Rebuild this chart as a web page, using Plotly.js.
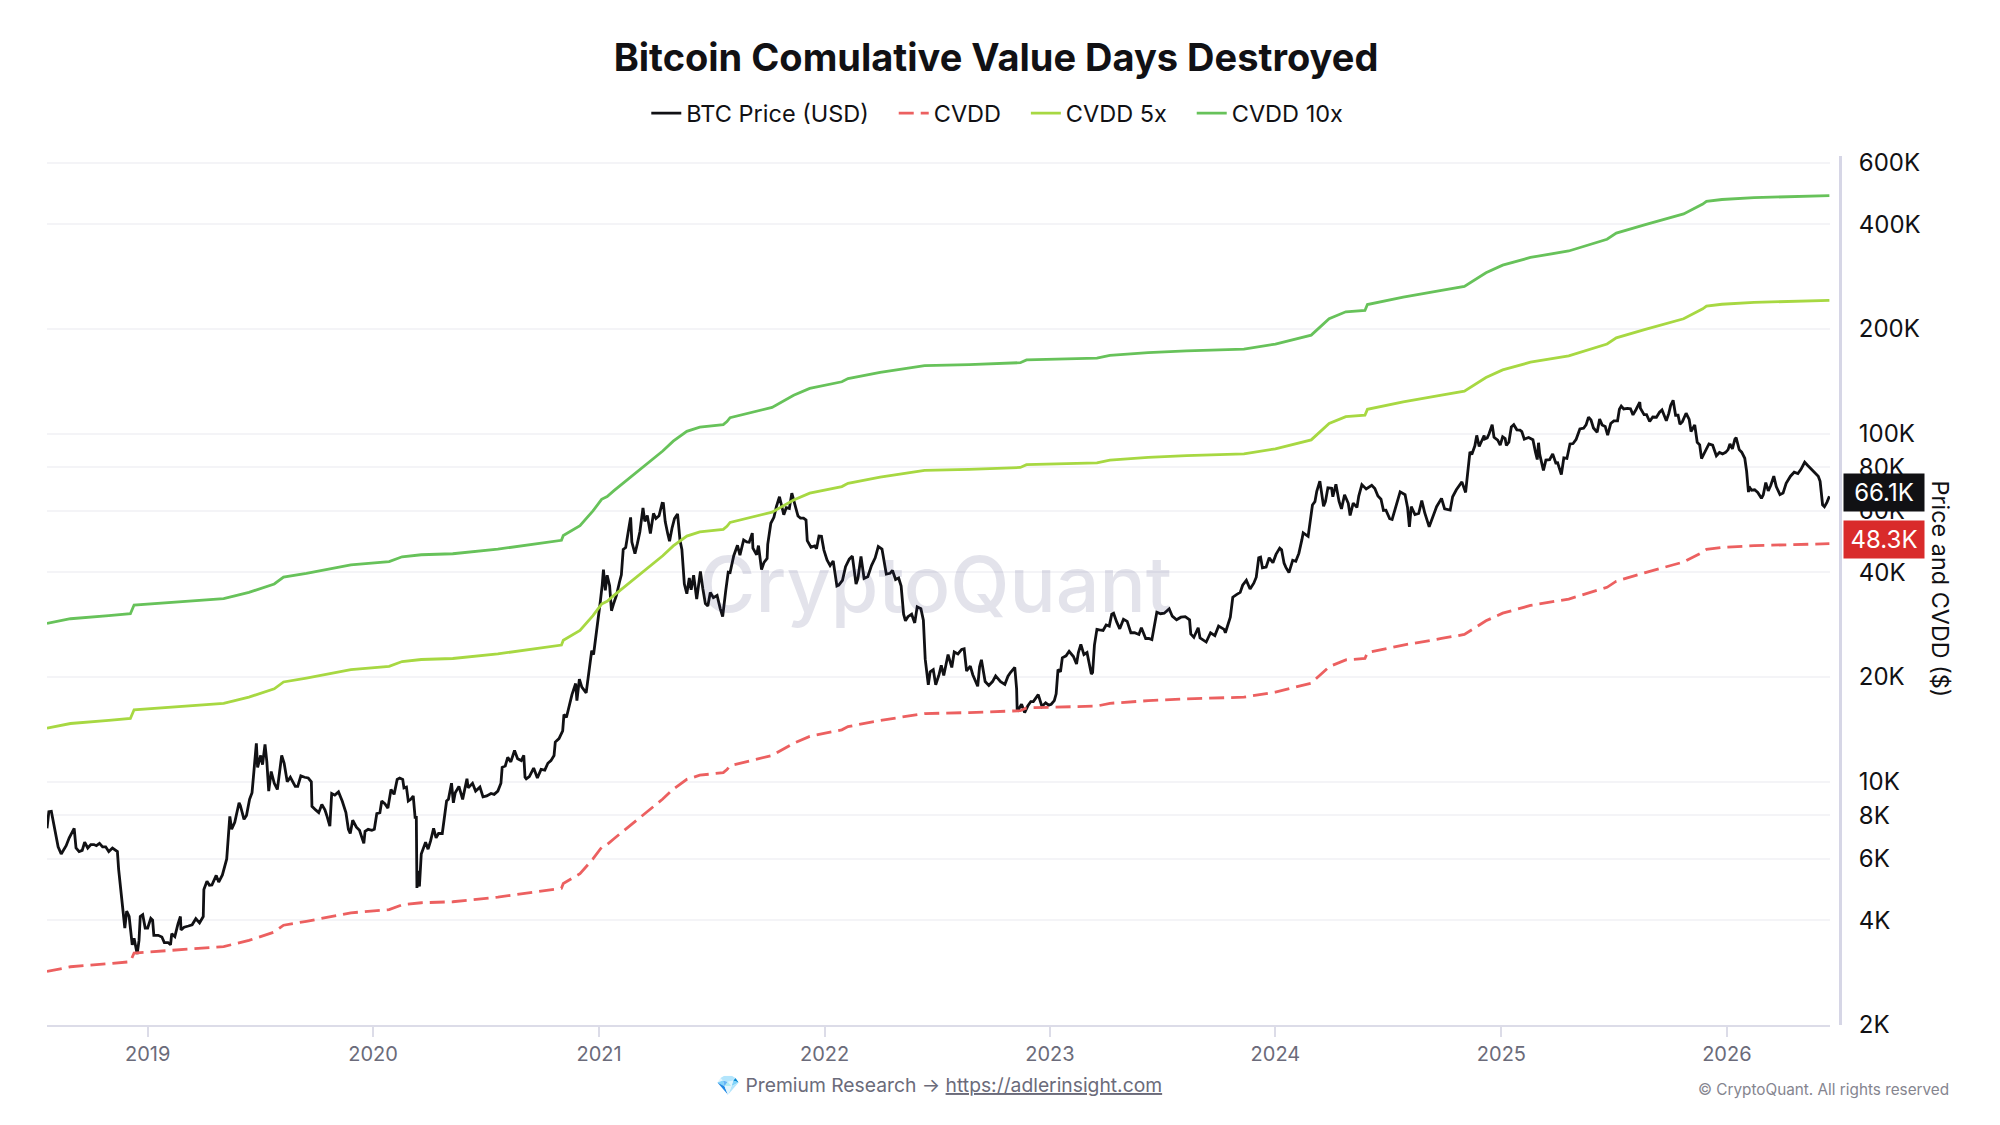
<!DOCTYPE html>
<html>
<head>
<meta charset="utf-8">
<script src="https://cdn.plot.ly/plotly-3.0.1.min.js"></script>
<style>
  html, body { margin: 0; background: #fff; }
  #chart { width: 2000px; height: 1125px; }
</style>
</head>
<body>
<div id="chart"></div>
<script>
// BTC price, [date, usd]
var price2018 = [["2018-07-22",7350],["2018-07-25",8200],["2018-07-29",8220],["2018-08-02",7550],["2018-08-05",7050],["2018-08-09",6500],["2018-08-14",6200],["2018-08-18",6400],["2018-08-22",6550],["2018-08-27",6900],["2018-09-01",7200],["2018-09-04",7350],["2018-09-07",6450],["2018-09-12",6300],["2018-09-17",6350],["2018-09-21",6700],["2018-09-26",6450],["2018-10-01",6600],["2018-10-06",6600],["2018-10-10",6550],["2018-10-15",6650],["2018-10-20",6500],["2018-10-25",6500],["2018-10-30",6300],["2018-11-05",6450],["2018-11-10",6350],["2018-11-13",6300],["2018-11-15",5600],["2018-11-20",4500],["2018-11-24",3900],["2018-11-25",3800],["2018-11-28",4250],["2018-12-02",4100],["2018-12-07",3400],["2018-12-10",3550],["2018-12-15",3200],["2018-12-18",3500],["2018-12-20",4100],["2018-12-24",4150],["2018-12-28",3800]];
var price2019 = [["2019-01-01",3800],["2019-01-06",4050],["2019-01-09",4000],["2019-01-11",3620],["2019-01-18",3620],["2019-01-24",3580],["2019-01-28",3450],["2019-02-03",3450],["2019-02-07",3400],["2019-02-09",3660],["2019-02-14",3590],["2019-02-19",3900],["2019-02-23",4100],["2019-02-24",3750],["2019-03-01",3820],["2019-03-08",3850],["2019-03-14",3880],["2019-03-20",4040],["2019-03-26",3930],["2019-04-01",4100],["2019-04-02",4900],["2019-04-07",5180],["2019-04-11",5040],["2019-04-15",5050],["2019-04-22",5380],["2019-04-26",5150],["2019-05-02",5400],["2019-05-09",6000],["2019-05-12",7100],["2019-05-14",7950],["2019-05-17",7300],["2019-05-22",7650],["2019-05-29",8700],["2019-05-31",8550],["2019-06-06",7800],["2019-06-10",8000],["2019-06-15",8900],["2019-06-19",9300],["2019-06-22",10700],["2019-06-26",12900],["2019-06-28",11000],["2019-07-03",11900],["2019-07-06",11200],["2019-07-10",12800],["2019-07-13",11400],["2019-07-16",9400],["2019-07-20",10700],["2019-07-25",9900],["2019-07-30",9500],["2019-08-03",10800],["2019-08-06",11900],["2019-08-10",11300],["2019-08-15",10000],["2019-08-20",10300],["2019-08-28",9700],["2019-09-01",9700],["2019-09-06",10400],["2019-09-12",10300],["2019-09-18",10250],["2019-09-23",10000],["2019-09-24",8500],["2019-09-30",8300],["2019-10-05",8150],["2019-10-10",8600],["2019-10-15",8300],["2019-10-18",8000],["2019-10-23",7450],["2019-10-25",8650],["2019-10-26",9250],["2019-10-31",9150],["2019-11-06",9350],["2019-11-12",8800],["2019-11-18",8150],["2019-11-22",7300],["2019-11-25",7100],["2019-11-29",7750],["2019-12-05",7400],["2019-12-10",7250],["2019-12-17",6650],["2019-12-19",7200],["2019-12-24",7300],["2019-12-30",7250]];
var price2020 = [["2020-01-03",7300],["2020-01-07",8100],["2020-01-12",8150],["2020-01-15",8800],["2020-01-20",8650],["2020-01-25",8400],["2020-01-30",9500],["2020-02-04",9200],["2020-02-09",10150],["2020-02-13",10250],["2020-02-18",10150],["2020-02-20",9600],["2020-02-24",9650],["2020-02-27",8800],["2020-03-02",8900],["2020-03-06",9100],["2020-03-09",7900],["2020-03-11",7900],["2020-03-12",4950],["2020-03-13",5550],["2020-03-16",5000],["2020-03-19",6200],["2020-03-23",6450],["2020-03-26",6700],["2020-03-30",6400],["2020-04-03",6750],["2020-04-08",7350],["2020-04-12",6900],["2020-04-16",7100],["2020-04-22",7100],["2020-04-29",8800],["2020-05-02",8900],["2020-05-07",9900],["2020-05-10",8700],["2020-05-13",9300],["2020-05-19",9700],["2020-05-25",8900],["2020-05-30",9700],["2020-06-01",10200],["2020-06-03",9600],["2020-06-10",9900],["2020-06-15",9400],["2020-06-22",9650],["2020-06-27",9050],["2020-07-03",9100],["2020-07-10",9250],["2020-07-15",9200],["2020-07-21",9400],["2020-07-26",9900],["2020-07-28",11000],["2020-08-02",11100],["2020-08-06",11750],["2020-08-11",11400],["2020-08-17",12300],["2020-08-22",11650],["2020-08-28",11500],["2020-09-01",11900],["2020-09-03",10300],["2020-09-05",10200],["2020-09-10",10350],["2020-09-17",10950],["2020-09-23",10250],["2020-09-29",10850],["2020-10-05",10800],["2020-10-10",11300],["2020-10-15",11500],["2020-10-20",11900],["2020-10-22",13000],["2020-10-28",13300],["2020-11-03",14000],["2020-11-05",15600],["2020-11-09",15300],["2020-11-13",16300],["2020-11-18",17800],["2020-11-24",19150],["2020-11-26",17100],["2020-11-30",19700],["2020-12-04",18700],["2020-12-11",18000],["2020-12-16",21300],["2020-12-20",23800],["2020-12-23",23200],["2020-12-27",26300],["2020-12-31",29000]];
var price2021 = [["2021-01-03",33000],["2021-01-06",36800],["2021-01-08",40700],["2021-01-11",35500],["2021-01-14",39200],["2021-01-18",36600],["2021-01-21",31000],["2021-01-24",32300],["2021-01-29",34300],["2021-02-03",37500],["2021-02-06",39300],["2021-02-09",46500],["2021-02-13",47100],["2021-02-17",52100],["2021-02-21",57500],["2021-02-23",48800],["2021-02-28",45200],["2021-03-04",48400],["2021-03-08",52300],["2021-03-13",61200],["2021-03-16",56000],["2021-03-20",58200],["2021-03-25",51700],["2021-03-30",59000],["2021-04-03",57100],["2021-04-08",58100],["2021-04-13",63100],["2021-04-15",63000],["2021-04-18",55900],["2021-04-22",51700],["2021-04-25",49100],["2021-04-29",53500],["2021-05-03",57000],["2021-05-08",58800],["2021-05-12",49300],["2021-05-15",46500],["2021-05-19",37000],["2021-05-23",34700],["2021-05-27",38500],["2021-05-30",35600],["2021-06-03",39200],["2021-06-08",33500],["2021-06-14",40200],["2021-06-18",35800],["2021-06-22",32500],["2021-06-26",32000],["2021-06-30",35000],["2021-07-05",33800],["2021-07-11",34300],["2021-07-16",31500],["2021-07-20",29800],["2021-07-25",35400],["2021-07-29",40000],["2021-08-01",39900],["2021-08-07",44600],["2021-08-13",47800],["2021-08-17",44800],["2021-08-23",49500],["2021-08-28",48900],["2021-09-01",48800],["2021-09-06",51800],["2021-09-07",46900],["2021-09-13",44900],["2021-09-16",47700],["2021-09-21",40700],["2021-09-25",42700],["2021-09-30",43800],["2021-10-01",48100],["2021-10-06",55300],["2021-10-11",57500],["2021-10-15",61700],["2021-10-20",65900],["2021-10-24",61000],["2021-10-27",58500],["2021-10-31",61300],["2021-11-05",61000],["2021-11-09",67500],["2021-11-12",64200],["2021-11-16",60100],["2021-11-19",58000],["2021-11-23",57200],["2021-11-28",57200],["2021-12-02",56500],["2021-12-04",49300],["2021-12-10",47200],["2021-12-16",47600],["2021-12-19",46700],["2021-12-23",50800],["2021-12-27",50700],["2021-12-31",46300]];
var price2022 = [["2022-01-05",43400],["2022-01-10",41800],["2022-01-15",43100],["2022-01-21",36500],["2022-01-24",36700],["2022-01-30",37900],["2022-02-04",41500],["2022-02-10",43600],["2022-02-15",44500],["2022-02-21",37000],["2022-02-24",38300],["2022-03-01",44400],["2022-03-06",38400],["2022-03-12",38800],["2022-03-18",41800],["2022-03-24",44000],["2022-03-29",47400],["2022-04-04",46600],["2022-04-11",39500],["2022-04-17",39700],["2022-04-21",40500],["2022-04-26",38100],["2022-05-01",38500],["2022-05-05",36500],["2022-05-09",30300],["2022-05-12",29000],["2022-05-16",29800],["2022-05-22",30300],["2022-05-27",28600],["2022-05-31",31800],["2022-06-06",31400],["2022-06-10",29100],["2022-06-13",22500],["2022-06-18",19000],["2022-06-21",20700],["2022-06-26",21000],["2022-06-30",19000],["2022-07-05",20200],["2022-07-09",21600],["2022-07-13",20200],["2022-07-20",23200],["2022-07-26",21300],["2022-07-30",23600],["2022-08-05",23300],["2022-08-11",24000],["2022-08-15",24100],["2022-08-19",20800],["2022-08-25",21500],["2022-08-29",20300],["2022-09-06",18800],["2022-09-09",21400],["2022-09-12",22400],["2022-09-18",19400],["2022-09-24",18900],["2022-09-30",19400],["2022-10-05",20150],["2022-10-13",19400],["2022-10-20",19050],["2022-10-25",20100],["2022-10-29",20600],["2022-11-05",21300],["2022-11-08",18500],["2022-11-09",15900],["2022-11-13",16300],["2022-11-16",16700],["2022-11-21",15800],["2022-11-26",16500],["2022-12-01",17000],["2022-12-05",17000],["2022-12-13",17800],["2022-12-15",17400],["2022-12-19",16450],["2022-12-25",16850],["2022-12-30",16600]];
var price2023 = [["2023-01-03",16700],["2023-01-08",17100],["2023-01-11",17900],["2023-01-14",21000],["2023-01-18",20700],["2023-01-21",22700],["2023-01-27",23000],["2023-02-01",23700],["2023-02-08",22900],["2023-02-13",21800],["2023-02-16",23500],["2023-02-20",24800],["2023-02-25",23200],["2023-03-02",23500],["2023-03-09",20400],["2023-03-11",20600],["2023-03-14",24700],["2023-03-18",27400],["2023-03-22",27300],["2023-03-28",27200],["2023-04-02",28200],["2023-04-07",28000],["2023-04-11",30300],["2023-04-14",30500],["2023-04-19",28800],["2023-04-24",27500],["2023-04-30",29300],["2023-05-06",28900],["2023-05-12",26800],["2023-05-18",26800],["2023-05-25",26500],["2023-05-29",27700],["2023-06-05",25800],["2023-06-10",25800],["2023-06-15",25600],["2023-06-20",28300],["2023-06-23",30700],["2023-06-29",30400],["2023-07-05",30500],["2023-07-13",31400],["2023-07-18",29900],["2023-07-25",29200],["2023-08-01",29700],["2023-08-08",29800],["2023-08-15",29200],["2023-08-17",26600],["2023-08-22",26000],["2023-08-29",27700],["2023-09-01",25900],["2023-09-11",25200],["2023-09-18",26800],["2023-09-25",26300],["2023-10-01",28000],["2023-10-10",27400],["2023-10-12",26800],["2023-10-20",29700],["2023-10-24",33900],["2023-10-30",34500],["2023-11-05",35000],["2023-11-09",36700],["2023-11-15",37900],["2023-11-21",35800],["2023-11-27",37200],["2023-12-01",38700],["2023-12-05",44000],["2023-12-08",44200],["2023-12-11",41200],["2023-12-17",41400],["2023-12-22",44000],["2023-12-28",42600]];
var price2024 = [["2024-01-02",45000],["2024-01-08",46900],["2024-01-11",46400],["2024-01-15",42500],["2024-01-18",41300],["2024-01-23",39900],["2024-01-29",43300],["2024-02-03",43000],["2024-02-08",45300],["2024-02-13",49700],["2024-02-15",51900],["2024-02-23",50700],["2024-02-27",57000],["2024-03-01",62400],["2024-03-05",63800],["2024-03-08",68300],["2024-03-13",73100],["2024-03-19",61900],["2024-03-22",63800],["2024-03-26",69900],["2024-04-01",69700],["2024-04-03",65900],["2024-04-08",71600],["2024-04-13",64000],["2024-04-17",60800],["2024-04-22",66800],["2024-04-28",63100],["2024-05-01",58200],["2024-05-06",63200],["2024-05-12",61400],["2024-05-15",66200],["2024-05-20",71400],["2024-05-27",69400],["2024-06-05",71100],["2024-06-10",69600],["2024-06-15",66200],["2024-06-20",64800],["2024-06-24",60200],["2024-06-28",60300],["2024-07-04",57000],["2024-07-08",56700],["2024-07-15",62900],["2024-07-21",68100],["2024-07-29",66800],["2024-08-02",61400],["2024-08-05",54000],["2024-08-08",61700],["2024-08-14",58600],["2024-08-20",59000],["2024-08-25",64200],["2024-08-30",59100],["2024-09-06",54000],["2024-09-12",58100],["2024-09-18",61700],["2024-09-26",65200],["2024-10-01",60800],["2024-10-10",60300],["2024-10-14",65900],["2024-10-20",69000],["2024-10-29",72700],["2024-11-04",67800],["2024-11-07",75900],["2024-11-11",88700],["2024-11-14",87200],["2024-11-19",92300],["2024-11-22",98900],["2024-11-26",91900],["2024-12-04",98800],["2024-12-05",96600],["2024-12-09",97300],["2024-12-12",100000],["2024-12-17",106100],["2024-12-20",97700],["2024-12-26",95800],["2024-12-30",92700]];
var price2025 = [["2025-01-03",98000],["2025-01-07",96900],["2025-01-09",92500],["2025-01-13",94500],["2025-01-17",104500],["2025-01-21",106100],["2025-01-26",102600],["2025-01-31",102400],["2025-02-03",101400],["2025-02-07",96500],["2025-02-14",97500],["2025-02-21",96100],["2025-02-25",88700],["2025-02-28",84300],["2025-03-02",94200],["2025-03-04",87200],["2025-03-10",78500],["2025-03-14",84000],["2025-03-20",84200],["2025-03-25",87500],["2025-03-30",82400],["2025-04-02",82500],["2025-04-08",76300],["2025-04-12",85200],["2025-04-17",84900],["2025-04-22",93400],["2025-04-27",93700],["2025-05-02",96400],["2025-05-08",103200],["2025-05-14",103700],["2025-05-18",106000],["2025-05-22",111600],["2025-05-26",109500],["2025-05-30",103900],["2025-06-05",101000],["2025-06-09",110200],["2025-06-13",106000],["2025-06-18",104900],["2025-06-22",99000],["2025-06-27",107000],["2025-07-02",108800],["2025-07-08",108900],["2025-07-11",117500],["2025-07-14",120000],["2025-07-18",117800],["2025-07-24",118200],["2025-07-29",117900],["2025-08-02",113300],["2025-08-07",117400],["2025-08-13",123300],["2025-08-14",118300],["2025-08-20",113400],["2025-08-24",113400],["2025-08-29",108400],["2025-09-03",111700],["2025-09-09",111500],["2025-09-14",115300],["2025-09-18",117100],["2025-09-25",109000],["2025-09-29",114400],["2025-10-02",120600],["2025-10-06",124700],["2025-10-10",113000],["2025-10-14",113000],["2025-10-17",106500],["2025-10-21",108300],["2025-10-27",114500],["2025-11-01",110000],["2025-11-04",101500],["2025-11-10",105900],["2025-11-14",94500],["2025-11-18",92900],["2025-11-21",84800],["2025-11-25",87500],["2025-11-30",90400],["2025-12-03",93500],["2025-12-09",92700],["2025-12-15",86400],["2025-12-20",88300],["2025-12-25",87500],["2025-12-30",88400]];
var price2026 = [["2026-01-03",90000],["2026-01-06",93500],["2026-01-10",90500],["2026-01-14",96500],["2026-01-16",97400],["2026-01-21",90000],["2026-01-25",88500],["2026-01-30",85000],["2026-02-02",78000],["2026-02-05",68000],["2026-02-06",70500],["2026-02-10",68800],["2026-02-15",69000],["2026-02-20",67800],["2026-02-26",65200],["2026-03-01",66800],["2026-03-05",72400],["2026-03-09",68500],["2026-03-13",71000],["2026-03-18",75500],["2026-03-22",70500],["2026-03-28",66800],["2026-04-02",67500],["2026-04-07",72000],["2026-04-14",75500],["2026-04-20",77500],["2026-04-26",76800],["2026-05-01",79000],["2026-05-07",82800],["2026-05-12",81000],["2026-05-18",79000],["2026-05-24",77500],["2026-05-29",75500],["2026-06-01",73000],["2026-06-05",62500],["2026-06-08",61700],["2026-06-12",63500],["2026-06-16",66100]];

// CVDD and its multiples share these dates
var cvddDates = ["2018-07-22","2018-08-29","2018-10-30","2018-12-04","2018-12-10","2019-01-20","2019-03-13","2019-05-04","2019-06-14","2019-07-25","2019-08-09","2019-09-15","2019-11-26","2020-01-27","2020-02-17","2020-03-19","2020-05-09","2020-07-21","2020-11-01","2020-11-04","2020-12-01","2020-12-22","2021-01-05","2021-01-14","2021-01-25","2021-02-20","2021-03-13","2021-04-14","2021-05-01","2021-05-23","2021-06-13","2021-07-21","2021-07-27","2021-08-01","2021-10-08","2021-11-12","2021-12-08","2022-01-29","2022-02-08","2022-04-01","2022-06-12","2022-08-23","2022-11-14","2022-11-24","2023-03-18","2023-04-08","2023-06-09","2023-08-10","2023-11-11","2024-01-01","2024-02-28","2024-03-28","2024-04-24","2024-05-25","2024-05-29","2024-07-26","2024-09-26","2024-11-02","2024-12-07","2025-01-03","2025-02-17","2025-04-20","2025-06-21","2025-07-06","2025-08-22","2025-10-23","2025-11-23","2025-11-29","2025-12-24","2026-02-14","2026-06-16"];
var cvdd = [2850,2940,3000,3040,3220,3260,3300,3360,3500,3700,3870,3970,4200,4290,4430,4490,4520,4660,4940,5100,5440,6000,6480,6600,6860,7480,8000,8920,9520,10160,10440,10620,10840,11120,11900,12900,13500,14100,14400,15000,15700,15800,16000,16300,16500,16800,17100,17300,17500,18100,19200,21400,22400,22600,23500,24700,25800,26500,29000,30500,32100,33500,36200,37700,39900,42800,45700,46500,47100,47700,48300];
var cvdd5x = [14250,14700,15000,15200,16100,16300,16500,16800,17500,18500,19350,19850,21000,21450,22150,22450,22600,23300,24700,25500,27200,30000,32400,33000,34300,37400,40000,44600,47600,50800,52200,53100,54200,55600,59500,64500,67500,70500,72000,75000,78500,79000,80000,81500,82500,84000,85500,86500,87500,90500,96000,107000,112000,113000,117500,123500,129000,132500,145000,152500,160500,167500,181000,188500,199500,214000,228500,232500,235500,238500,241500];
var cvdd10x = [28500,29400,30000,30400,32200,32600,33000,33600,35000,37000,38700,39700,42000,42900,44300,44900,45200,46600,49400,51000,54400,60000,64800,66000,68600,74800,80000,89200,95200,101600,104400,106200,108400,111200,119000,129000,135000,141000,144000,150000,157000,158000,160000,163000,165000,168000,171000,173000,175000,181000,192000,214000,224000,226000,235000,247000,258000,265000,290000,305000,321000,335000,362000,377000,399000,428000,457000,465000,471000,477000,483000];

var yTicks = [2000,4000,6000,8000,10000,20000,40000,60000,80000,100000,200000,400000,600000];
var yLabels = ["2K","4K","6K","8K","10K","20K","40K","60K","80K","100K","200K","400K","600K"];
var xTicks = ["2019-01-01","2020-01-01","2021-01-01","2022-01-01","2023-01-01","2024-01-01","2025-01-01","2026-01-01"];
var xLabels = ["2019","2020","2021","2022","2023","2024","2025","2026"];

var priceRows = price2018.concat(price2019, price2020, price2021, price2022, price2023, price2024, price2025, price2026);
var priceDates = priceRows.map(function (r) { return r[0]; });
var priceValues = priceRows.map(function (r) { return r[1]; });

var font = "Inter, sans-serif";
var gap = "\u00a0\u00a0\u00a0"; // widens the legend entries

function shortK(v) {
  return (v / 1000).toFixed(1) + "K";
}

var data = [
  { x: priceDates, y: priceValues, name: "BTC Price (USD)" + gap, type: "scatter", mode: "lines", line: { color: "#111114", width: 2.8 } },
  { x: cvddDates, y: cvdd, name: "CVDD" + gap, type: "scatter", mode: "lines", line: { color: "#ec6060", width: 2.8, dash: "15px,7px" } },
  { x: cvddDates, y: cvdd5x, name: "CVDD 5x" + gap, type: "scatter", mode: "lines", line: { color: "#a7d842", width: 2.8 } },
  { x: cvddDates, y: cvdd10x, name: "CVDD 10x", type: "scatter", mode: "lines", line: { color: "#67c25a", width: 2.8 } }
];

// last value badges sit on the y axis
function badge(v, color) {
  return {
    xref: "paper", yref: "y", x: 1.0017, y: Math.log10(v), yshift: 4, xanchor: "left", yanchor: "middle",
    text: shortK(v), showarrow: false, width: 80, height: 37, bgcolor: color, borderpad: 0,
    font: { family: font, size: 24, color: "#fff" }
  };
}

var layout = {
  width: 2000,
  height: 1125,
  paper_bgcolor: "#fff",
  plot_bgcolor: "#fff",
  margin: { l: 47, r: 160, t: 156, b: 100 },
  font: { family: font },
  showlegend: true,
  title: {
    text: "<b>Bitcoin Comulative Value Days Destroyed</b>",
    x: 0.498, xanchor: "center", y: 0.9485, yanchor: "middle", yref: "container",
    font: { family: font, size: 38, color: "#111114" }
  },
  legend: {
    orientation: "h", x: 0.53, xanchor: "center", y: 1.049, yanchor: "middle",
    font: { family: font, size: 23.5, color: "#111114" }
  },
  xaxis: {
    type: "date",
    domain: [0, 0.99442],
    range: ["2018-07-22", "2026-06-17"],
    tickvals: xTicks, ticktext: xLabels,
    ticks: "outside", ticklen: 10, tickwidth: 1.5, tickcolor: "#dcdce8",
    tickfont: { family: font, size: 20, color: "#6b6b7a" },
    showgrid: false, zeroline: false,
    showline: true, linecolor: "#dcdce8", linewidth: 2
  },
  yaxis: {
    type: "log",
    anchor: "free", position: 1, side: "right",
    range: [3.301, 5.798],
    tickvals: yTicks, ticktext: yLabels,
    ticks: "", ticklabelstandoff: 12,
    tickfont: { family: font, size: 24, color: "#111114" },
    showgrid: true, gridcolor: "#f4f4f7", gridwidth: 1.5, zeroline: false,
    showline: true, linecolor: "#d6d6e6", linewidth: 3
  },
  annotations: [
    {
      xref: "paper", yref: "paper", x: 0.4958, y: 0.5075, xanchor: "center", yanchor: "middle",
      text: "CryptoQuant", showarrow: false,
      font: { family: font, size: 77, weight: 500, color: "rgba(40,40,100,0.13)" }
    },
    {
      xref: "paper", yref: "paper", x: 1.0558, y: 0.5023, xanchor: "center", yanchor: "middle", textangle: 90,
      text: "Price and CVDD ($)", showarrow: false,
      font: { family: font, size: 23.4, color: "#111114" }
    },
    badge(priceValues[priceValues.length - 1], "#111114"),
    badge(cvdd[cvdd.length - 1], "#d92b2b"),
    {
      xref: "paper", yref: "paper", x: 0.4977, y: -0.069, xanchor: "center", yanchor: "middle",
      text: "💎 Premium Research → <u>https://adlerinsight.com</u>", showarrow: false,
      font: { family: font, size: 19.3, color: "#6b6b7a" }
    },
    {
      xref: "paper", yref: "paper", x: 1.0619, y: -0.0747, xanchor: "right", yanchor: "middle",
      text: "© CryptoQuant. All rights reserved", showarrow: false,
      font: { family: font, size: 15.3, color: "#85858f" }
    }
  ]
};

var config = { responsive: false, displayModeBar: false };

Plotly.newPlot("chart", data, layout, config);
</script>
</body>
</html>
